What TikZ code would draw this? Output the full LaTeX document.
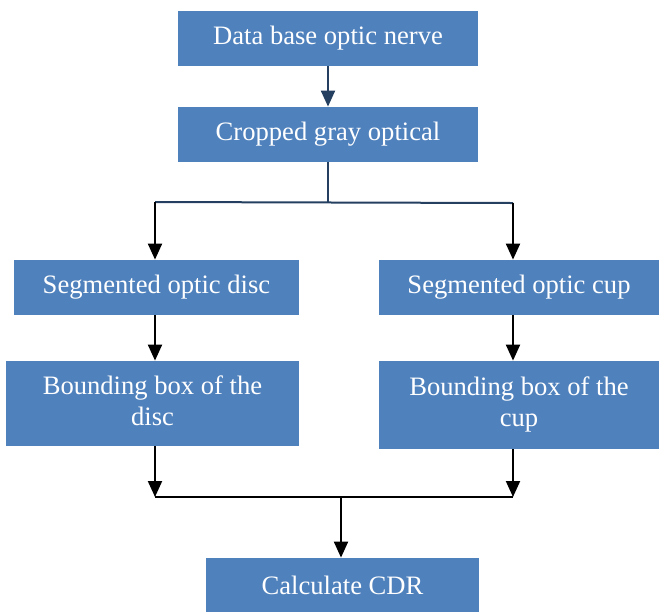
\documentclass[tikz,border=0pt]{standalone}
\usepackage{fontspec}
\setmainfont{Liberation Serif}
\usetikzlibrary{arrows.meta}
\definecolor{boxblue}{HTML}{4F81BD}
\definecolor{navy}{HTML}{243F60}
\newcommand{\twolines}[2]{\raisebox{1.5pt}{\begin{tabular}{@{}c@{}}#1\\#2\end{tabular}}}
\begin{document}
\begin{tikzpicture}[
    x=0.5pt, y=-0.5pt,
    stepbox/.style={rectangle, fill=boxblue, text=white, align=center, inner sep=0pt,
        font=\fontsize{13.3}{15.5}\selectfont},
    flow/.style={line width=1pt, -{Triangle[width=7pt,length=8pt]}},
    link/.style={line width=1pt},
]
\useasboundingbox (0,0) rectangle (659,612);

% Blocchi superiori
\node[stepbox, minimum width=150pt, minimum height=27.5pt] (db) at (328,38.5)
    {Data base optic nerve};
\node[stepbox, minimum width=150pt, minimum height=27.5pt] (crop) at (328,134.5)
    {\raisebox{1.5pt}{Cropped gray optical}};

% Ramo sinistro
\node[stepbox, minimum width=142.5pt, minimum height=27.5pt] (disc) at (156.5,287.5)
    {Segmented optic disc};
\node[stepbox, minimum width=146.5pt, minimum height=42.5pt] (bbdisc) at (152.5,403.5)
    {\twolines{Bounding box of the}{disc}};

% Ramo destro
\node[stepbox, minimum width=140pt, minimum height=27.5pt] (cup) at (519,287.5)
    {Segmented optic cup};
\node[stepbox, minimum width=140pt, minimum height=44pt] (bbcup) at (519,405)
    {\twolines{Bounding box of the}{cup}};

% Risultato
\node[stepbox, minimum width=136.5pt, minimum height=27pt] (cdr) at (342.5,585)
    {Calculate CDR};

% Punti di snodo
\coordinate (split) at (328,202);
\coordinate (splitL) at (155,202);
\coordinate (splitR) at (513,203);
\coordinate (joinL) at (155,497);
\coordinate (joinR) at (513,497);
\coordinate (join) at (341,498);

% Connettori
\draw[flow, navy] (db) -- (crop);
\draw[link, navy] (crop.south) -- (split);
\draw[link, navy] (splitL) -- (splitR);
\draw[flow] (splitL) -- (splitL |- disc.north);
\draw[flow] (splitR) -- (splitR |- cup.north);
\draw[flow] (splitL |- disc.south) -- (splitL |- bbdisc.north);
\draw[flow] (splitR |- cup.south) -- (splitR |- bbcup.north);
\draw[flow] (joinL |- bbdisc.south) -- (joinL);
\draw[flow] (joinR |- bbcup.south) -- (joinR);
\draw[link] (joinL) -- (joinR);
\draw[flow] (join) -- (join |- cdr.north);

\end{tikzpicture}
\end{document}
